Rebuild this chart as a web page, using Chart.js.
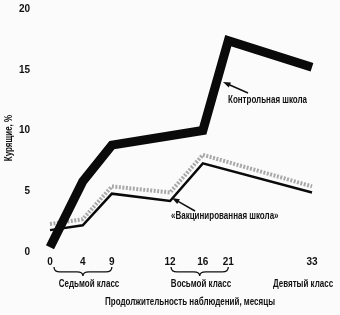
<!DOCTYPE html>
<html>
<head>
<meta charset="utf-8">
<script src="https://cdn.jsdelivr.net/npm/chart.js@4/dist/chart.umd.min.js"></script>
<style>
  html, body { margin: 0; padding: 0; background: #fbfbfb; }
  #wrap { width: 340px; height: 315px; }
</style>
</head>
<body>
<div id="wrap"><canvas id="grafica"></canvas></div>
<script>
// months of observation (tick labels) and where they sit on the uneven axis
var meses = [0, 4, 9, 12, 16, 21, 33];
var posicion = [0, 9, 17, 33, 42, 49, 72]; // slot index on the 0..72 category axis
var totalSlots = 73;

// series values, % smokers
var control = [0.4, 5.8, 8.8, null, 10.0, 17.4, 15.2];
var vacunaGris = [2.3, 2.7, 5.4, 4.9, 8.0, null, 5.4];
var vacunaNegra = [1.8, 2.2, 4.8, 4.2, 7.3, null, 4.9];

var yTicks = [0, 5, 10, 15, 20];
var grupos = ['Седьмой класс', 'Восьмой класс', 'Девятый класс'];

var fuente = "'Liberation Sans', Arial, sans-serif";

function porSlot(valores) {
    var d = [];
    for (let i = 0; i < totalSlots; i++) d.push(null);
    for (let i = 0; i < meses.length; i++) d[posicion[i]] = valores[i];
    return d;
}

var labels = [];
for (let i = 0; i < totalSlots; i++) labels.push('');
for (let i = 0; i < meses.length; i++) labels[posicion[i]] = String(meses[i]);

// narrow text: the original uses a condensed face
function texto(ctx, s, x, y, align) {
    ctx.save();
    ctx.translate(x, y);
    ctx.scale(0.8, 1);
    ctx.textAlign = align;
    ctx.fillText(s, 0, 0);
    ctx.restore();
}

function flecha(ctx, x1, y1, x2, y2) {
    var a = Math.atan2(y2 - y1, x2 - x1);
    ctx.beginPath();
    ctx.moveTo(x1, y1);
    ctx.lineTo(x2 - 5 * Math.cos(a), y2 - 5 * Math.sin(a));
    ctx.lineWidth = 1.5;
    ctx.stroke();
    ctx.beginPath();
    ctx.moveTo(x2, y2);
    ctx.lineTo(x2 - 8 * Math.cos(a - 0.35), y2 - 8 * Math.sin(a - 0.35));
    ctx.lineTo(x2 - 8 * Math.cos(a + 0.35), y2 - 8 * Math.sin(a + 0.35));
    ctx.closePath();
    ctx.fill();
}

function llave(ctx, x1, x2, y, h) {
    var mid = (x1 + x2) / 2, r = 6, f = y + h * 0.55;
    ctx.beginPath();
    ctx.moveTo(x1, y);
    ctx.quadraticCurveTo(x1, f, x1 + r, f);
    ctx.lineTo(mid - r, f);
    ctx.quadraticCurveTo(mid, f, mid, y + h);
    ctx.quadraticCurveTo(mid, f, mid + r, f);
    ctx.lineTo(x2 - r, f);
    ctx.quadraticCurveTo(x2, f, x2, y);
    ctx.lineWidth = 1.3;
    ctx.stroke();
}

var extras = {
    id: 'extras',
    afterDraw: function(chart) {
        var ctx = chart.ctx;
        var xs = chart.scales.x;
        ctx.save();
        ctx.fillStyle = '#111';
        ctx.strokeStyle = '#111';

        // braces under the grade groups
        llave(ctx, xs.getPixelForValue(posicion[0]) + 4, xs.getPixelForValue(posicion[2]), 267, 9);
        llave(ctx, xs.getPixelForValue(posicion[3]) + 1, xs.getPixelForValue(posicion[5]), 267, 9);

        ctx.font = 'bold 10px ' + fuente;
        ctx.textBaseline = 'middle';
        texto(ctx, grupos[0], 89, 284, 'center');
        texto(ctx, grupos[1], 201, 284, 'center');
        texto(ctx, grupos[2], 303, 284, 'center');
        texto(ctx, 'Продолжительность наблюдений, месяцы', 190, 302, 'center');

        // y title
        ctx.save();
        ctx.translate(9, 138);
        ctx.rotate(-Math.PI / 2);
        texto(ctx, 'Курящие, %', 0, 0, 'center');
        ctx.restore();

        // annotations
        texto(ctx, 'Контрольная школа', 228, 100, 'left');
        texto(ctx, '«Вакцинированная школа»', 171, 216, 'left');
        flecha(ctx, 248, 93, 223, 82);
        flecha(ctx, 195, 211, 172, 198);
        ctx.restore();
    }
};

var ctx = document.getElementById('grafica').getContext('2d');
var myChart = new Chart(ctx, {
    type: 'line',
    data: {
        labels: labels,
        datasets: [{
            label: 'Контрольная школа',
            data: porSlot(control),
            borderColor: '#0a0a0a',
            borderWidth: 9,
            borderJoinStyle: 'miter',
            pointRadius: 0,
            spanGaps: true,
            order: 0
        }, {
            label: 'Вакцинированная школа (гр.)',
            data: porSlot(vacunaGris),
            borderColor: '#a8a8a8',
            borderWidth: 4,
            borderDash: [2, 1.5],
            pointRadius: 0,
            spanGaps: true,
            order: 1
        }, {
            label: 'Вакцинированная школа',
            data: porSlot(vacunaNegra),
            borderColor: '#0a0a0a',
            borderWidth: 2.5,
            pointRadius: 0,
            spanGaps: true,
            order: 2
        }]
    },
    options: {
        responsive: true,
        maintainAspectRatio: false,
        animation: false,
        layout: { padding: { left: 0, right: 28, top: 9, bottom: 0 } },
        plugins: { legend: { display: false }, tooltip: { enabled: false } },
        scales: {
            x: {
                type: 'category',
                offset: false,
                grid: { display: false, drawTicks: false },
                border: { display: false },
                ticks: {
                    autoSkip: false,
                    maxRotation: 0,
                    padding: 4,
                    color: '#111',
                    font: { family: fuente, size: 10, weight: 'bold' }
                },
                afterFit: function(scale) {
                    scale.height = 63;
                    scale.paddingLeft = 0;
                    scale.paddingRight = 0;
                }
            },
            y: {
                min: 0,
                max: 20,
                grid: { display: false },
                border: { display: false },
                afterBuildTicks: function(scale) {
                    scale.ticks = yTicks.map(function(v) { return { value: v }; });
                },
                ticks: {
                    padding: 12,
                    color: '#111',
                    font: { family: fuente, size: 10, weight: 'bold' }
                },
                afterFit: function(scale) {
                    scale.width = 50;
                    scale.paddingTop = 0;
                    scale.paddingBottom = 0;
                }
            }
        }
    },
    plugins: [extras]
});
</script>
</body>
</html>
